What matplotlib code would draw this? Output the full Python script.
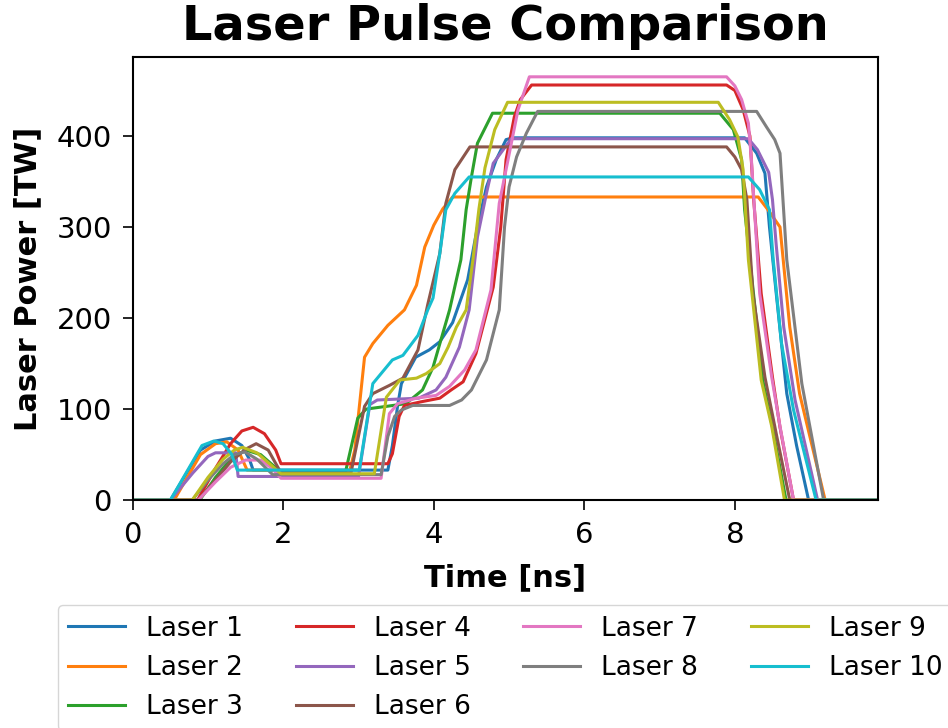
import matplotlib
matplotlib.use("Agg")
import matplotlib.pyplot as plt

# (time [ns], power [TW]) vertices for each laser
t1 = [0, 0.5, 0.9, 1.1, 1.3, 1.45, 1.55, 1.6, 3.39, 3.45, 3.52, 3.57, 3.76, 3.94, 4.08, 4.25, 4.45, 4.58, 4.7, 4.83, 4.96, 5.05, 8.13, 8.29, 8.4, 8.46, 8.55, 8.69, 8.82, 8.98, 9.9]
p1 = [0, 0, 55, 65, 68, 60, 45, 33, 33, 60, 104, 128, 157, 165, 174, 195, 242, 300, 344, 374, 396, 398, 398, 381, 359, 300, 227, 117, 60, 0, 0]

t2 = [0, 0.55, 0.9, 1.1, 1.25, 1.4, 1.52, 2.88, 2.95, 3.08, 3.19, 3.39, 3.61, 3.77, 3.88, 4.0, 4.12, 4.25, 8.31, 8.44, 8.6, 8.73, 8.86, 9.2, 9.9]
p2 = [0, 0, 50, 62, 64, 55, 33, 31, 55, 157, 172, 192, 209, 236, 278, 302, 320, 333, 333, 319, 300, 190, 117, 0, 0]

t3 = [0, 0.89, 1.1, 1.3, 1.5, 1.7, 1.95, 2.83, 2.99, 3.1, 3.37, 3.63, 3.85, 3.99, 4.21, 4.36, 4.43, 4.5, 4.58, 4.78, 7.8, 7.98, 8.09, 8.13, 8.2, 8.37, 8.5, 8.68, 9.9]
p3 = [0, 0, 25, 45, 55, 50, 32, 32, 90, 100, 103, 106, 121, 146, 209, 264, 319, 355, 392, 425, 425, 407, 374, 319, 264, 132, 80, 0, 0]

t4 = [0, 0.86, 1.1, 1.3, 1.45, 1.6, 1.75, 1.9, 1.97, 3.39, 3.45, 3.54, 3.61, 3.83, 4.08, 4.23, 4.39, 4.56, 4.79, 4.89, 4.96, 5.07, 5.15, 5.3, 7.89, 8.0, 8.11, 8.2, 8.25, 8.35, 8.5, 8.6, 8.78, 9.9]
p4 = [0, 0, 35, 62, 76, 80, 73, 55, 40, 40, 51, 92, 104, 108, 112, 121, 130, 161, 234, 300, 374, 421, 440, 456, 456, 450, 429, 400, 330, 227, 135, 80, 0, 0]

t5 = [0, 0.5, 0.8, 1.0, 1.1, 1.37, 1.4, 3.0, 3.15, 3.25, 3.8, 4.03, 4.16, 4.34, 4.47, 4.58, 4.7, 4.79, 5.03, 8.18, 8.3, 8.45, 8.5, 8.55, 8.65, 8.8, 9.1, 9.9]
p5 = [0, 0, 30, 48, 52, 52, 26, 26, 105, 110, 112, 121, 135, 168, 209, 289, 337, 370, 397, 397, 385, 360, 330, 280, 190, 110, 0, 0]

t6 = [0, 0.87, 1.1, 1.3, 1.5, 1.64, 1.8, 1.97, 2.9, 3.08, 3.19, 3.41, 3.59, 3.79, 3.92, 4.08, 4.16, 4.28, 4.48, 7.89, 8.0, 8.09, 8.16, 8.24, 8.4, 8.55, 8.73, 9.9]
p6 = [0, 0, 22, 42, 56, 62, 55, 30, 30, 103, 117, 126, 134, 165, 215, 271, 326, 363, 388, 388, 377, 363, 330, 227, 135, 73, 0, 0]

t7 = [0, 0.87, 1.1, 1.3, 1.5, 1.7, 1.85, 1.97, 3.3, 3.41, 3.52, 3.77, 4.03, 4.21, 4.41, 4.56, 4.76, 4.87, 4.96, 5.12, 5.27, 7.89, 8.0, 8.09, 8.18, 8.22, 8.33, 8.49, 8.6, 8.78, 9.9]
p7 = [0, 0, 20, 36, 44, 44, 35, 24, 24, 95, 106, 112, 115, 125, 143, 165, 231, 326, 363, 429, 465, 465, 455, 440, 414, 374, 227, 135, 81, 0, 0]

t8 = [0, 0.79, 1.0, 1.2, 1.35, 1.49, 1.65, 1.86, 3.3, 3.39, 3.48, 3.57, 3.72, 4.21, 4.37, 4.5, 4.7, 4.87, 4.94, 5.0, 5.1, 5.23, 5.38, 8.29, 8.42, 8.53, 8.6, 8.69, 8.89, 9.18, 9.9]
p8 = [0, 0, 22, 40, 50, 53, 45, 28, 28, 70, 92, 99, 104, 104, 110, 121, 154, 209, 300, 344, 377, 403, 427, 427, 410, 396, 381, 264, 128, 0, 0]

t9 = [0, 0.79, 1.0, 1.2, 1.35, 1.46, 1.65, 1.97, 3.21, 3.37, 3.55, 3.77, 3.9, 4.08, 4.19, 4.3, 4.43, 4.52, 4.6, 4.68, 4.81, 4.98, 7.78, 7.93, 8.04, 8.11, 8.18, 8.35, 8.49, 8.66, 9.9]
p9 = [0, 0, 25, 45, 55, 58, 52, 29, 29, 113, 132, 134, 139, 150, 168, 190, 209, 264, 320, 365, 407, 437, 437, 418, 399, 363, 264, 132, 81, 0, 0]

t10 = [0, 0.5, 0.92, 1.08, 1.2, 1.31, 1.39, 3.01, 3.19, 3.45, 3.59, 3.79, 3.92, 3.99, 4.08, 4.16, 4.28, 4.47, 8.18, 8.33, 8.46, 8.51, 8.62, 8.78, 9.08, 9.9]
p10 = [0, 0, 60, 65, 62, 51, 33, 33, 128, 154, 159, 181, 209, 222, 271, 319, 337, 355, 355, 341, 319, 264, 172, 99, 0, 0]

times = [t1, t2, t3, t4, t5, t6, t7, t8, t9, t10]
powers = [p1, p2, p3, p4, p5, p6, p7, p8, p9, p10]
labels = ["Laser %d" % (i + 1) for i in range(10)]

fig = plt.figure(figsize=(9.48, 7.28), dpi=100)
ax = fig.add_axes([0.140, 0.313, 0.786, 0.609])

for t, p, lab in zip(times, powers, labels):
    ax.plot(t, p, linewidth=2.2, label=lab)

ax.set_xlim(0, 9.9)
ax.set_ylim(0, 487)
ax.set_xticks([0, 2, 4, 6, 8])
ax.set_yticks([0, 100, 200, 300, 400])
ax.tick_params(labelsize=21, length=7, width=1.2, pad=8)
for s in ax.spines.values():
    s.set_linewidth(1.5)

ax.set_title("Laser Pulse Comparison", fontsize=34.5, fontweight="bold", pad=12)
ax.set_xlabel("Time [ns]", fontsize=22, fontweight="bold", labelpad=10)
ax.set_ylabel("Laser Power [TW]", fontsize=22, fontweight="bold", labelpad=10)

ax.legend(loc="upper center", bbox_to_anchor=(0.5, -0.207), ncol=4,
          fontsize=19, frameon=True, fancybox=True, handlelength=2.15)

fig.savefig("out.png", dpi=100)
